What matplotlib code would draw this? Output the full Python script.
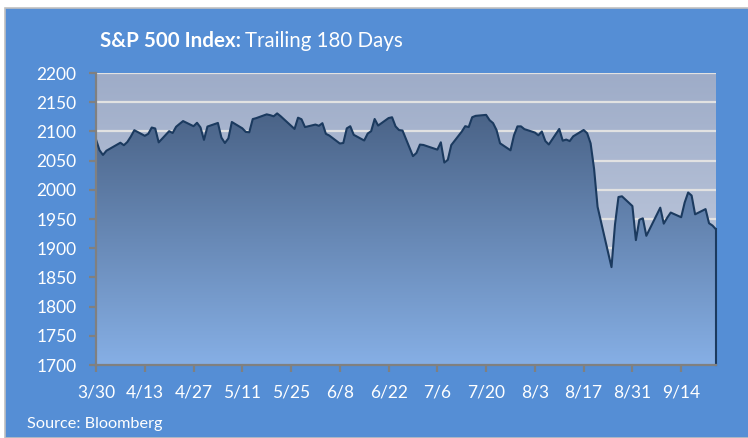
import numpy as np
import pandas as pd
import matplotlib
matplotlib.use('Agg')
import matplotlib.pyplot as plt
import matplotlib.dates as mdates
from matplotlib.patches import Rectangle
from matplotlib.colors import LinearSegmentedColormap

# S&P 500 daily closes, 3/30 - 9/24
dates = ['2015-03-30', '2015-03-31', '2015-04-01', '2015-04-02', '2015-04-06', '2015-04-07',
         '2015-04-08', '2015-04-09', '2015-04-10', '2015-04-13', '2015-04-14', '2015-04-15',
         '2015-04-16', '2015-04-17', '2015-04-20', '2015-04-21', '2015-04-22', '2015-04-23',
         '2015-04-24', '2015-04-27', '2015-04-28', '2015-04-29', '2015-04-30', '2015-05-01',
         '2015-05-04', '2015-05-05', '2015-05-06', '2015-05-07', '2015-05-08', '2015-05-11',
         '2015-05-12', '2015-05-13', '2015-05-14', '2015-05-15', '2015-05-18', '2015-05-19',
         '2015-05-20', '2015-05-21', '2015-05-22', '2015-05-26', '2015-05-27', '2015-05-28',
         '2015-05-29', '2015-06-01', '2015-06-02', '2015-06-03', '2015-06-04', '2015-06-05',
         '2015-06-08', '2015-06-09', '2015-06-10', '2015-06-11', '2015-06-12', '2015-06-15',
         '2015-06-16', '2015-06-17', '2015-06-18', '2015-06-19', '2015-06-22', '2015-06-23',
         '2015-06-24', '2015-06-25', '2015-06-26', '2015-06-29', '2015-06-30', '2015-07-01',
         '2015-07-02', '2015-07-06', '2015-07-07', '2015-07-08', '2015-07-09', '2015-07-10',
         '2015-07-13', '2015-07-14', '2015-07-15', '2015-07-16', '2015-07-17', '2015-07-20',
         '2015-07-21', '2015-07-22', '2015-07-23', '2015-07-24', '2015-07-27', '2015-07-28',
         '2015-07-29', '2015-07-30', '2015-07-31', '2015-08-03', '2015-08-04', '2015-08-05',
         '2015-08-06', '2015-08-07', '2015-08-10', '2015-08-11', '2015-08-12', '2015-08-13',
         '2015-08-14', '2015-08-17', '2015-08-18', '2015-08-19', '2015-08-20', '2015-08-21',
         '2015-08-24', '2015-08-25', '2015-08-26', '2015-08-27', '2015-08-28', '2015-08-31',
         '2015-09-01', '2015-09-02', '2015-09-03', '2015-09-04', '2015-09-08', '2015-09-09',
         '2015-09-10', '2015-09-11', '2015-09-14', '2015-09-15', '2015-09-16', '2015-09-17',
         '2015-09-18', '2015-09-21', '2015-09-22', '2015-09-23', '2015-09-24']
closes = [2086.24, 2067.89, 2059.69, 2066.96, 2080.62, 2076.33,
          2081.90, 2091.18, 2102.06, 2092.43, 2095.84, 2106.63,
          2104.99, 2081.18, 2100.40, 2097.29, 2107.96, 2112.93,
          2117.69, 2108.92, 2114.76, 2106.85, 2085.51, 2108.29,
          2114.49, 2089.46, 2080.15, 2088.00, 2116.10, 2105.33,
          2099.12, 2098.48, 2121.10, 2122.73, 2129.20, 2127.83,
          2125.85, 2130.82, 2126.06, 2104.20, 2123.48, 2120.79,
          2107.39, 2111.73, 2109.60, 2114.07, 2095.84, 2092.83,
          2079.28, 2080.15, 2105.20, 2108.86, 2094.11, 2084.43,
          2096.29, 2100.44, 2121.24, 2109.99, 2122.85, 2124.20,
          2108.58, 2102.31, 2101.49, 2057.64, 2063.11, 2077.42,
          2076.78, 2068.76, 2081.34, 2046.68, 2051.31, 2076.62,
          2099.60, 2108.95, 2107.40, 2124.29, 2126.64, 2128.28,
          2119.21, 2114.15, 2102.15, 2079.65, 2067.64, 2093.25,
          2108.57, 2108.63, 2103.84, 2098.04, 2093.32, 2099.84,
          2083.56, 2077.57, 2104.18, 2084.07, 2086.05, 2083.39,
          2091.54, 2102.44, 2096.92, 2079.61, 2035.73, 1970.89,
          1893.21, 1867.61, 1940.51, 1987.66, 1988.87, 1972.18,
          1913.85, 1948.86, 1951.13, 1921.22, 1969.41, 1942.04,
          1952.29, 1961.05, 1953.03, 1978.09, 1995.31, 1990.20,
          1958.03, 1966.97, 1942.74, 1938.76, 1932.24]
y_ticks = [1700, 1750, 1800, 1850, 1900, 1950, 2000, 2050, 2100, 2150, 2200]
x_ticks = ['2015-03-30', '2015-04-13', '2015-04-27', '2015-05-11', '2015-05-25', '2015-06-08',
           '2015-06-22', '2015-07-06', '2015-07-20', '2015-08-03', '2015-08-17', '2015-08-31',
           '2015-09-14']

plt.rcParams['font.family'] = ['Lato', 'DejaVu Sans']

x = mdates.date2num(pd.to_datetime(dates))
y = np.array(closes)
ymin, ymax = y_ticks[0], y_ticks[-1]

fig = plt.figure(figsize=(7.48, 4.38), dpi=100)
fig.patch.set_facecolor('white')
fig.patches.append(Rectangle((4.5/748, 0), 744/748, 430.5/438, transform=fig.transFigure,
                             facecolor='#558ed5', edgecolor='#c0c0c0', lw=1.2, zorder=-1))

ax = fig.add_axes([96/748, 1 - 365/438, 620/748, 292/438])
ax.set_zorder(1)
ax.set_xlim(x[0], x[-1])
ax.set_ylim(ymin, ymax)

# plot area background gradient
bg = LinearSegmentedColormap.from_list('bg', ['#9eacc8', '#cbd4e5'])
ax.imshow(np.linspace(0, 1, 256).reshape(-1, 1), cmap=bg, aspect='auto', origin='upper',
          extent=(x[0], x[-1], ymin, ymax), zorder=0)

ax.set_yticks(y_ticks)
ax.grid(axis='y', color='#e2e2e2', lw=1.6)
ax.set_axisbelow(True)

# area with vertical gradient
poly = ax.fill_between(x, y, ymin, facecolor='none', edgecolor='none')
fillc = LinearSegmentedColormap.from_list('fill', ['#4a6387', '#86afe5'])
im = ax.imshow(np.linspace(0, 1, 256).reshape(-1, 1), cmap=fillc, aspect='auto', origin='upper',
               extent=(x[0], x[-1], ymin, y.max()), zorder=1)
im.set_clip_path(poly.get_paths()[0], ax.transData)
ax.set_xlim(x[0], x[-1])
ax.set_ylim(ymin, ymax)

ax.plot(x, y, color='#1b3a5f', lw=1.5, zorder=3, solid_joinstyle='round')
ax.plot([x[-1], x[-1]], [ymin, y[-1]], color='#1b3a5f', lw=1.5, zorder=3, clip_on=False)

for s in ['top', 'right']:
    ax.spines[s].set_visible(False)
for s in ['left', 'bottom']:
    ax.spines[s].set_color('#808080')
    ax.spines[s].set_linewidth(1.6)
    ax.spines[s].set_zorder(4)

xt = pd.to_datetime(x_ticks)
ax.set_xticks(mdates.date2num(xt))
ax.set_xticklabels([f'{d.month}/{d.day}' for d in xt])
ax.tick_params(axis='both', colors='#808080', labelcolor='white', length=5, width=1.6,
               labelsize=12.5, pad=9)

t1 = fig.text(100/748, 1 - 41/438, 'S&P 500 Index:', color='white', fontsize=14.8,
              fontweight='bold', va='center', ha='left')
fig.canvas.draw()
bb = t1.get_window_extent()
fig.text((bb.x1 + 4) / 748, 1 - 41/438, 'Trailing 180 Days', color='white', fontsize=14.8,
         va='center', ha='left')

fig.text(27/748, 1 - 424/438, 'Source: Bloomberg', color='white', fontsize=11.7,
         va='center', ha='left')

fig.savefig('out.png', dpi=100)
